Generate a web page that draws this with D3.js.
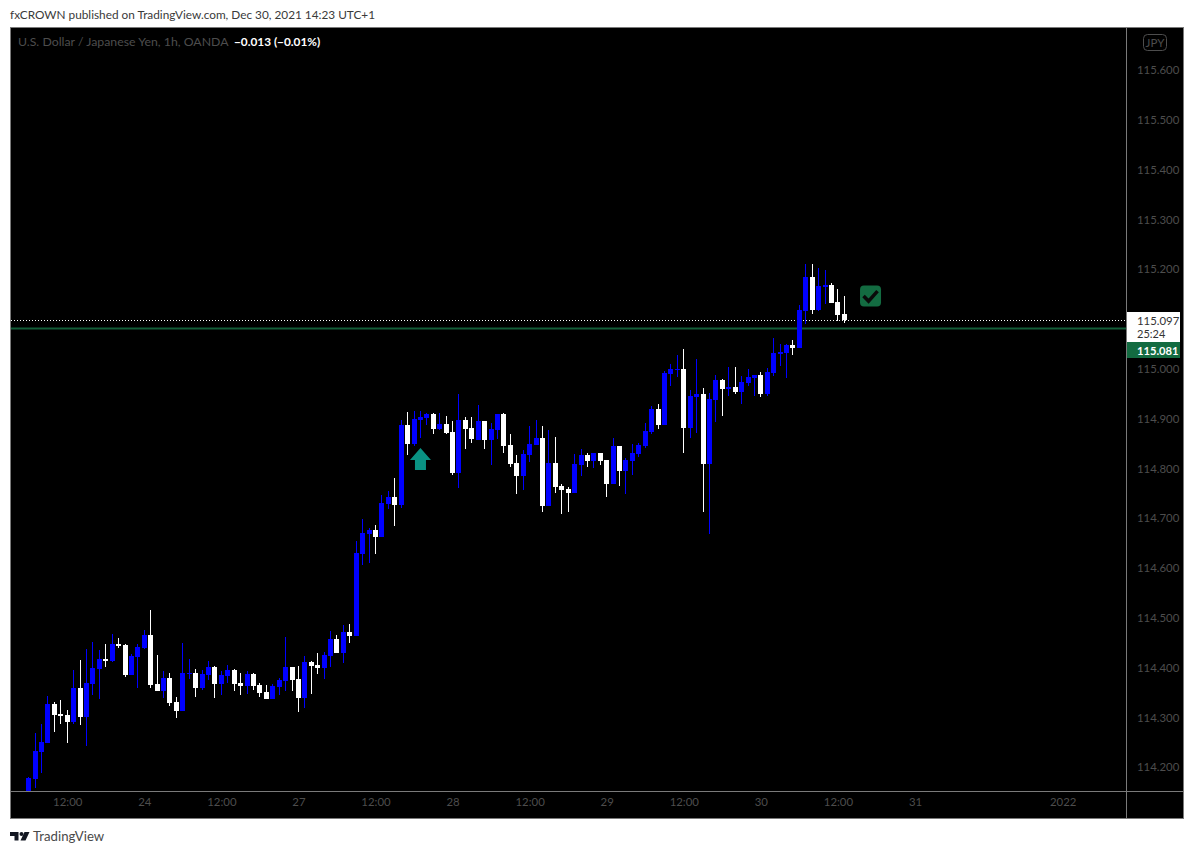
<!DOCTYPE html>
<html><head><meta charset="utf-8">
<script src="https://cdn.jsdelivr.net/npm/d3@7"></script>
<style>html,body{margin:0;padding:0;background:#fff}svg{display:block}text{font-family:Lato,sans-serif}</style>
</head><body><svg id="c" width="1194" height="854"></svg>
<script>
const opens=[114.150,114.177,114.231,114.249,114.327,114.307,114.305,114.291,114.359,114.301,114.367,114.397,114.417,114.413,114.448,114.445,114.385,114.421,114.439,114.466,114.367,114.353,114.379,114.331,114.313,114.387,114.389,114.359,114.385,
114.401,114.367,114.383,114.395,114.369,114.363,114.387,114.365,114.351,114.337,114.361,114.373,114.401,114.377,114.339,114.411,114.405,114.399,114.423,114.458,114.430,114.472,114.464,114.628,114.668,114.676,114.662,114.729,114.743,
114.727,114.887,114.849,114.897,114.901,114.909,114.879,114.889,114.873,114.791,114.897,114.881,114.857,114.895,114.857,114.877,114.909,114.847,114.811,114.785,114.827,114.847,114.861,114.725,114.811,114.765,114.759,114.751,114.807,114.827,
114.815,114.831,114.817,114.769,114.845,114.795,114.815,114.829,114.845,114.873,114.919,114.887,114.990,114.998,115.000,114.881,114.943,114.949,114.809,114.937,114.977,114.959,114.963,114.953,114.971,114.981,114.988,114.949,114.992,
115.030,115.032,115.048,115.042,115.116,115.184,115.118,115.164,115.168,115.134,115.110];
const highs=[114.180,114.268,114.287,114.343,114.331,114.335,114.315,114.395,114.415,114.437,114.452,114.435,114.448,114.468,114.460,114.448,114.427,114.448,114.476,114.516,114.425,114.393,114.389,114.341,114.450,114.417,114.397,114.395,114.413,
114.403,114.393,114.405,114.397,114.389,114.393,114.389,114.369,114.365,114.367,114.379,114.462,114.401,114.403,114.423,114.413,114.430,114.431,114.474,114.466,114.486,114.488,114.654,114.698,114.680,114.686,114.747,114.755,114.781,
114.897,114.913,114.915,114.915,114.911,114.911,114.911,114.905,114.895,114.949,114.903,114.903,114.927,114.895,114.891,114.909,114.911,114.869,114.827,114.837,114.885,114.897,114.885,114.877,114.863,114.769,114.763,114.829,114.839,114.831,
114.831,114.831,114.817,114.861,114.845,114.821,114.849,114.851,114.891,114.925,114.929,114.996,115.010,115.028,115.040,114.957,115.020,114.961,114.951,114.988,114.979,115.004,115.004,114.985,115.000,114.988,114.994,115.002,115.062,
115.050,115.050,115.058,115.128,115.210,115.210,115.202,115.198,115.172,115.160,115.146];
const lows=[114.140,114.158,114.189,114.249,114.271,114.287,114.249,114.287,114.285,114.243,114.345,114.337,114.401,114.411,114.439,114.381,114.385,114.359,114.437,114.359,114.353,114.339,114.323,114.299,114.313,114.377,114.341,114.355,114.375,
114.339,114.345,114.369,114.353,114.345,114.347,114.355,114.341,114.337,114.337,114.345,114.353,114.353,114.311,114.319,114.347,114.387,114.377,114.401,114.430,114.409,114.450,114.464,114.606,114.610,114.628,114.662,114.719,114.684,
114.721,114.827,114.845,114.861,114.887,114.869,114.877,114.869,114.787,114.761,114.839,114.851,114.857,114.839,114.807,114.859,114.831,114.803,114.749,114.757,114.813,114.847,114.713,114.725,114.751,114.709,114.713,114.751,114.785,114.803,
114.801,114.807,114.743,114.769,114.765,114.749,114.787,114.823,114.841,114.869,114.879,114.887,114.965,114.984,114.831,114.861,114.871,114.713,114.668,114.893,114.905,114.945,114.949,114.929,114.965,114.945,114.943,114.945,114.985,
115.006,114.982,115.028,115.042,115.090,115.110,115.116,115.130,115.132,115.096,115.092];
const closes=[114.179,114.233,114.251,114.327,114.305,114.303,114.291,114.359,114.301,114.369,114.399,114.417,114.413,114.448,114.443,114.385,114.423,114.441,114.466,114.365,114.353,114.379,114.329,114.313,114.389,114.389,114.359,114.387,114.401,
114.367,114.385,114.395,114.367,114.363,114.387,114.363,114.349,114.337,114.363,114.375,114.401,114.375,114.339,114.411,114.403,114.399,114.425,114.458,114.430,114.472,114.464,114.630,114.670,114.676,114.662,114.731,114.743,114.727,
114.887,114.849,114.899,114.903,114.909,114.879,114.889,114.871,114.791,114.897,114.879,114.859,114.895,114.857,114.879,114.909,114.845,114.809,114.785,114.829,114.849,114.861,114.725,114.811,114.763,114.757,114.751,114.809,114.827,114.815,
114.831,114.815,114.769,114.845,114.795,114.817,114.831,114.847,114.875,114.919,114.887,114.992,115.000,115.000,114.881,114.945,114.949,114.809,114.939,114.977,114.959,114.963,114.953,114.973,114.983,114.988,114.949,114.994,115.032,
115.034,115.048,115.042,115.118,115.184,115.118,115.166,115.168,115.132,115.108,115.097];

const priceTicks=[114.2,114.3,114.4,114.5,114.6,114.7,114.8,114.9,115.0,115.2,115.3,115.4,115.5,115.6];
const timeTickBars=[6,18,30,42,54,66,78,90,102,114,126,138,161];
const timeTickLabels=["12:00","24","12:00","27","12:00","28","12:00","29","12:00","30","12:00","31","2022"];
const lastPrice=115.097, prevLevel=115.081;
const arrowBar=61, arrowPrice=114.827;
const checkBar=131, checkPrice=115.146;

const BLUE="#0000ff",WHITE="#ffffff",DIM="#4d4d4d",BORDER="#7a7a7a",GREEN="#136b41",FONT="Lato,sans-serif";
const svg=d3.select("#c");
const L=10.5,R=1183.5,T=27.5,B=818.5,AX=1126.5,AY=791.5;
const x=d3.scaleLinear().domain([0,161]).range([28.7,1062.7]);
const y=d3.scaleLinear().domain([114.2,115.6]).range([767.2,70]);

svg.append("rect").attr("x",L).attr("y",T).attr("width",R-L).attr("height",B-T).attr("fill","#000");
svg.append("clipPath").attr("id","pane").append("rect").attr("x",L).attr("y",T).attr("width",AX-L).attr("height",AY-T);

const pane=svg.append("g").attr("clip-path","url(#pane)");
pane.append("line").attr("x1",L).attr("x2",AX).attr("y1",y(prevLevel)).attr("y2",y(prevLevel)).attr("stroke","#135c38").attr("stroke-width",2);
pane.append("line").attr("x1",11).attr("x2",1126).attr("y1",Math.floor(y(lastPrice))+.5).attr("y2",Math.floor(y(lastPrice))+.5).attr("stroke","#fff").attr("stroke-width",1).attr("stroke-dasharray","1 2");

const bars=d3.range(opens.length);
const col=i=>closes[i]>=opens[i]?BLUE:WHITE;
pane.selectAll(".w").data(bars).join("rect").attr("class","w")
 .attr("x",i=>Math.floor(x(i))).attr("width",1)
 .attr("y",i=>Math.round(y(highs[i]))).attr("height",i=>Math.max(1,Math.round(y(lows[i]))-Math.round(y(highs[i]))))
 .attr("fill",col);
pane.selectAll(".b").data(bars).join("rect").attr("class","b")
 .attr("x",i=>Math.floor(x(i))-2).attr("width",5)
 .attr("y",i=>Math.round(y(Math.max(opens[i],closes[i])))).attr("height",i=>Math.max(1,Math.round(y(Math.min(opens[i],closes[i])))-Math.round(y(Math.max(opens[i],closes[i])))))
 .attr("fill",col);

// arrow annotation
const ax=x(arrowBar),ay=y(arrowPrice);
pane.append("path").attr("fill","#0a9283")
 .attr("d",d3.line()([[ax,ay-7],[ax+10.5,ay+5],[ax+5.5,ay+5],[ax+5.5,ay+15],[ax-5.5,ay+15],[ax-5.5,ay+5],[ax-10.5,ay+5]])+"Z");
// check annotation
const cx=x(checkBar)+.5,cy=y(checkPrice);
pane.append("rect").attr("x",cx-10.5).attr("y",cy-10.5).attr("width",21).attr("height",21).attr("rx",4).attr("fill",GREEN);
pane.append("path").attr("d",d3.line()([[cx-7,cy],[cx-2,cy+5],[cx+7,cy-5]])).attr("fill","none").attr("stroke","#0a0a0a").attr("stroke-width",3.5);

// pane frame
svg.append("rect").attr("x",L).attr("y",T).attr("width",R-L).attr("height",B-T).attr("fill","none").attr("stroke",BORDER);
svg.append("line").attr("x1",AX).attr("x2",AX).attr("y1",T).attr("y2",B).attr("stroke",BORDER);
svg.append("line").attr("x1",L).attr("x2",R).attr("y1",AY).attr("y2",AY).attr("stroke",BORDER);

// axes
const ya=svg.append("g").attr("transform",`translate(1137,0)`).call(d3.axisRight(y).tickValues(priceTicks).tickSize(0).tickPadding(0).tickFormat(d3.format(".3f")));
ya.select(".domain").remove();
ya.selectAll("text").attr("fill",DIM).style("font-size","11.4px").style("font-family",FONT);
const xa=svg.append("g").attr("transform",`translate(0,798)`).call(d3.axisBottom(x).tickValues(timeTickBars).tickSize(0).tickPadding(0).tickFormat((d,i)=>timeTickLabels[i]));
xa.select(".domain").remove();
xa.selectAll("text").attr("fill",DIM).style("font-size","11.4px").style("font-family",FONT);

// JPY badge
svg.append("rect").attr("x",1143.5).attr("y",34.5).attr("width",23).attr("height",16).attr("rx",4).attr("fill","none").attr("stroke",DIM);
svg.append("text").attr("x",1155).attr("y",46.5).attr("text-anchor","middle").attr("fill",DIM).style("font-size","11.5px").text("JPY");

// price labels
svg.append("rect").attr("x",1127).attr("y",312).attr("width",53).attr("height",30).attr("fill","#fff");
svg.append("text").attr("x",1137).attr("y",325).attr("fill","#333").style("font-size","11.4px").text(d3.format(".3f")(lastPrice));
svg.append("text").attr("x",1137).attr("y",338).attr("fill","#333").style("font-size","11px").text("25:24");
svg.append("rect").attr("x",1127).attr("y",342).attr("width",53).attr("height",16).attr("fill",GREEN);
svg.append("text").attr("x",1137).attr("y",354.5).attr("fill","#fff").style("font-size","11.2px").style("font-weight","700").text(d3.format(".3f")(prevLevel));

// titles
svg.append("text").attr("x",10).attr("y",19).attr("fill","#3a3a3a").style("font-size","11.8px").text("fxCROWN published on TradingView.com, Dec 30, 2021 14:23 UTC+1");
svg.append("text").attr("x",18).attr("y",46).attr("fill",DIM).style("font-size","12.3px").text("U.S. Dollar / Japanese Yen, 1h, OANDA");
svg.append("text").attr("x",234).attr("y",46).attr("fill","#fff").style("font-size","11.8px").style("font-weight","700").text("−0.013 (−0.01%)");

// footer
const logo=svg.append("g").attr("fill","#131722");
logo.append("path").attr("d","M10 832H18.5V840.5H14.5V836H10Z");
logo.append("circle").attr("cx",21.5).attr("cy",834).attr("r",2);
logo.append("path").attr("d","M24.5 832H29.5L25.5 840.5H20.5Z");
svg.append("text").attr("x",33).attr("y",841).attr("fill","#4a4a4a").style("font-size","13.2px").text("TradingView");
</script></body></html>
